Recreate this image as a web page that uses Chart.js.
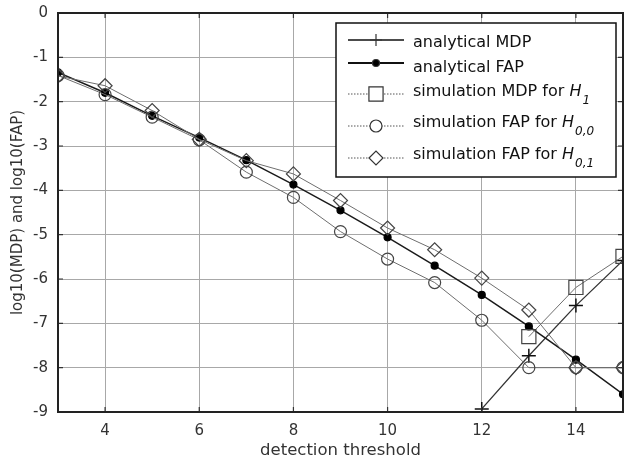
<!DOCTYPE html>
<html>
<head>
<meta charset="UTF-8">
<script src="https://cdn.jsdelivr.net/npm/chart.js"></script>
<style>
  body { margin: 0; background: #fff; }
  canvas { display: block; }
</style>
</head>
<body>
<canvas id="chart" width="627" height="461"></canvas>
<script>
// data
const thresholds = [3, 4, 5, 6, 7, 8, 9, 10, 11, 12, 13, 14, 15];
const analyticalMDP = [null, null, null, null, null, null, null, null, null, -8.93, -7.73, -6.60, -5.58];
const analyticalFAP = [-1.34, -1.80, -2.32, -2.81, -3.32, -3.87, -4.45, -5.06, -5.70, -6.36, -7.07, -7.82, -8.60];
const simMDP_H1 = [null, null, null, null, null, null, null, null, null, null, -7.30, -6.19, -5.49];
const simFAP_H00 = [-1.41, -1.84, -2.35, -2.86, -3.59, -4.16, -4.93, -5.55, -6.08, -6.93, -8.0, -8.0, -8.0];
const simFAP_H01 = [-1.42, -1.64, -2.20, -2.85, -3.33, -3.63, -4.23, -4.85, -5.34, -5.98, -6.70, -8.0, -8.0];
const xTicks = [4, 6, 8, 10, 12, 14];

const FONT = "'DejaVu Sans', Arial, sans-serif";
const pts = arr => thresholds.map((t, i) => ({ x: t, y: arr[i] }));

// frame, inward tick marks and the legend (it has subscripts, so drawn by hand)
const legendPlugin = {
  id: 'boxLegend',
  afterDraw(chart) {
    const ctx = chart.ctx;
    const a = chart.chartArea;
    const xs = chart.scales.x, ys = chart.scales.y;
    ctx.save();
    ctx.strokeStyle = '#333';
    ctx.lineWidth = 1.2;
    ctx.beginPath();
    xs.ticks.forEach(t => {
      const px = xs.getPixelForValue(t.value);
      ctx.moveTo(px, a.bottom); ctx.lineTo(px, a.bottom - 5);
      ctx.moveTo(px, a.top); ctx.lineTo(px, a.top + 5);
    });
    ys.ticks.forEach(t => {
      const py = ys.getPixelForValue(t.value);
      ctx.moveTo(a.left, py); ctx.lineTo(a.left + 5, py);
      ctx.moveTo(a.right, py); ctx.lineTo(a.right - 5, py);
    });
    ctx.stroke();
    ctx.strokeStyle = '#222';
    ctx.lineWidth = 2;
    ctx.strokeRect(a.left, a.top, a.right - a.left, a.bottom - a.top);

    const L = 336, T = 23, R = 616, B = 177;
    ctx.fillStyle = '#fff';
    ctx.fillRect(L, T, R - L, B - T);
    ctx.strokeStyle = '#111';
    ctx.lineWidth = 1.5;
    ctx.strokeRect(L, T, R - L, B - T);

    const entries = [
      { y: 40, ty: 43, text: 'analytical MDP', dash: [], col: '#111', lw: 1.5, style: 'cross', r: 6, fill: false },
      { y: 63, ty: 68, text: 'analytical FAP', dash: [], col: '#111', lw: 1.8, style: 'circle', r: 3.5, fill: true },
      { y: 94, ty: 92, text: 'simulation MDP for ', sub: '1', dash: [1.5, 1.5], col: '#555', lw: 1, style: 'rect', r: 10, fill: false },
      { y: 126, ty: 123, text: 'simulation FAP for ', sub: '0,0', dash: [1.5, 1.5], col: '#555', lw: 1, style: 'circle', r: 6, fill: false },
      { y: 158, ty: 155, text: 'simulation FAP for ', sub: '0,1', dash: [1.5, 1.5], col: '#555', lw: 1, style: 'rectRot', r: 7, fill: false }
    ];
    entries.forEach(e => {
      ctx.setLineDash(e.dash);
      ctx.strokeStyle = e.col;
      ctx.lineWidth = e.lw;
      ctx.beginPath();
      ctx.moveTo(348, e.y);
      ctx.lineTo(404, e.y);
      ctx.stroke();
      ctx.setLineDash([]);
      ctx.strokeStyle = '#333';
      ctx.fillStyle = e.fill ? '#000' : '#fff';
      ctx.lineWidth = 1.2;
      Chart.helpers.drawPoint(ctx, { pointStyle: e.style, rotation: 0, radius: e.r, borderWidth: 1.2 }, 376, e.y);
      ctx.fillStyle = '#111';
      ctx.textBaseline = 'middle';
      ctx.textAlign = 'left';
      ctx.font = '16px ' + FONT;
      ctx.fillText(e.text, 413, e.ty);
      if (e.sub) {
        const w = ctx.measureText(e.text).width;
        ctx.font = 'italic 16px ' + FONT;
        ctx.fillText('H', 413 + w, e.ty);
        const hw = ctx.measureText('H').width;
        ctx.font = 'italic 12px ' + FONT;
        ctx.fillText(e.sub, 413 + w + hw + 1, e.ty + 9);
      }
    });
    ctx.restore();
  }
};

function ds(label, data, opts) {
  return Object.assign({
    label: label,
    data: pts(data),
    showLine: true,
    spanGaps: false,
    backgroundColor: 'transparent',
    pointBorderWidth: 1.2
  }, opts);
}

new Chart(document.getElementById('chart'), {
  type: 'line',
  data: {
    datasets: [
      ds('simulation FAP for H0,1', simFAP_H01, { borderColor: '#6e6e6e', borderWidth: 1, pointStyle: 'rectRot', pointRadius: 7, pointBorderColor: '#444' }),
      ds('simulation FAP for H0,0', simFAP_H00, { borderColor: '#6e6e6e', borderWidth: 1, pointStyle: 'circle', pointRadius: 6, pointBorderColor: '#444' }),
      ds('simulation MDP for H1', simMDP_H1, { borderColor: '#6e6e6e', borderWidth: 1, pointStyle: 'rect', pointRadius: 10, pointBorderColor: '#444' }),
      ds('analytical FAP', analyticalFAP, { borderColor: '#1a1a1a', borderWidth: 1.5, pointStyle: 'circle', pointRadius: 3.5, pointBackgroundColor: '#000', pointBorderColor: '#000' }),
      ds('analytical MDP', analyticalMDP, { borderColor: '#333', borderWidth: 1.3, pointStyle: 'cross', pointRadius: 7, pointBorderColor: '#111', pointBorderWidth: 1.5 })
    ]
  },
  options: {
    responsive: false,
    animation: false,
    events: [],
    layout: { autoPadding: false, padding: { top: 13, right: 4, left: 0, bottom: 0 } },
    plugins: {
      legend: { display: false },
      tooltip: { enabled: false }
    },
    scales: {
      x: {
        type: 'linear',
        min: 3,
        max: 15,
        afterBuildTicks: s => { s.ticks = xTicks.map(v => ({ value: v })); },
        afterFit: s => { s.height = 49; s.paddingLeft = 0; s.paddingRight = 0; },
        grid: { color: '#a8a8a8', lineWidth: 1, drawTicks: false },
        border: { color: '#222', width: 2 },
        ticks: { color: '#333', padding: 10, maxRotation: 0, font: { family: FONT, size: 15 } },
        title: { display: true, text: 'detection threshold', color: '#333', padding: { top: 0, bottom: 0 }, font: { family: FONT, size: 16.5 } }
      },
      y: {
        min: -9,
        max: 0,
        afterFit: s => { s.width = 58; s.paddingTop = 0; s.paddingBottom = 0; },
        grid: { color: '#a8a8a8', lineWidth: 1, drawTicks: false },
        border: { color: '#222', width: 2 },
        ticks: { stepSize: 1, color: '#333', padding: 10, font: { family: FONT, size: 15 } },
        title: { display: true, text: 'log10(MDP) and log10(FAP)', color: '#333', padding: { top: 9, bottom: 0 }, font: { family: FONT, size: 15 } }
      }
    }
  },
  plugins: [legendPlugin]
});
</script>
</body>
</html>
